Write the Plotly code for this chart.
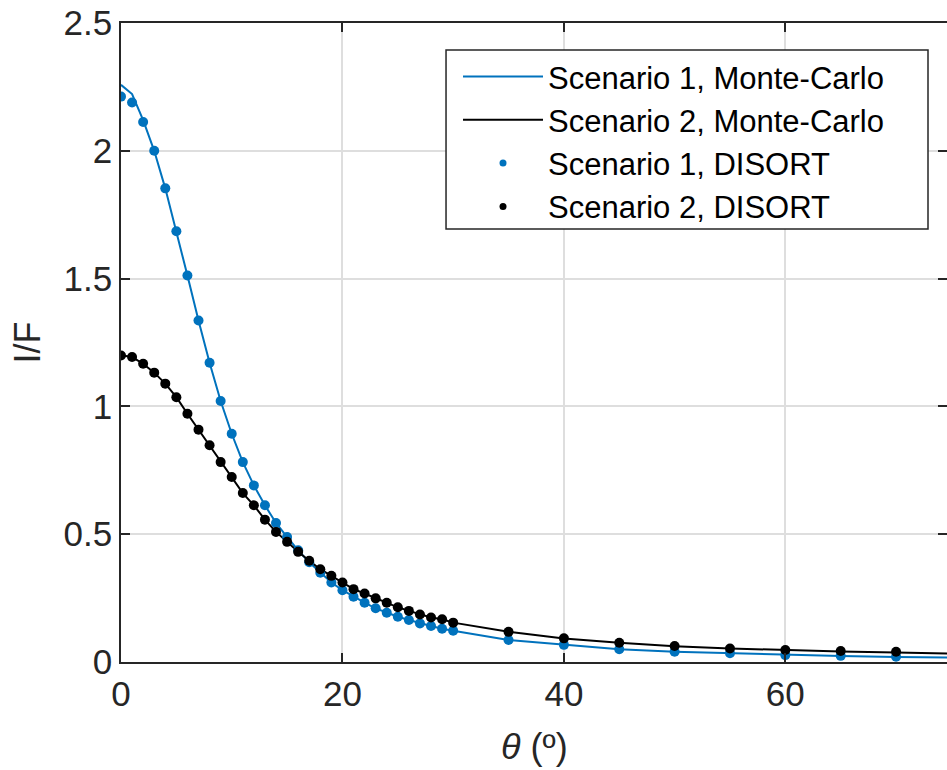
import plotly.graph_objects as go

# ---- data ----
theta_disort = list(range(0, 31)) + [35, 40, 45, 50, 55, 60, 65, 70]
theta_mc = list(range(0, 31)) + [35, 40, 45, 50, 55, 60, 65, 70, 75, 80]

s1_disort = [2.212, 2.189, 2.113, 2.000, 1.853, 1.685, 1.512, 1.336, 1.171, 1.021,
             0.893, 0.782, 0.691, 0.613, 0.544, 0.489, 0.437, 0.390, 0.349, 0.311,
             0.281, 0.255, 0.232, 0.210, 0.193, 0.177, 0.164, 0.151, 0.141, 0.130,
             0.122, 0.086, 0.067, 0.050, 0.040, 0.034, 0.027, 0.024, 0.021]
s2_disort = [1.199, 1.193, 1.167, 1.132, 1.089, 1.036, 0.971, 0.909, 0.848, 0.782,
             0.724, 0.661, 0.613, 0.557, 0.509, 0.470, 0.431, 0.396, 0.363, 0.337,
             0.311, 0.285, 0.268, 0.249, 0.232, 0.214, 0.200, 0.186, 0.174, 0.167,
             0.154, 0.118, 0.0925, 0.0755, 0.0625, 0.053, 0.047, 0.043, 0.040]

s1_mc = [2.258, 2.222, 2.120, 2.000, 1.853, 1.685, 1.512, 1.336, 1.171, 1.021,
         0.893, 0.782, 0.691, 0.613, 0.544, 0.489, 0.437, 0.390, 0.349, 0.311,
         0.281, 0.255, 0.232, 0.210, 0.193, 0.177, 0.164, 0.151, 0.141, 0.130,
         0.122, 0.086, 0.067, 0.050, 0.040, 0.034, 0.027, 0.023, 0.020, 0.016, 0.014]
s2_mc = [1.200, 1.193, 1.167, 1.132, 1.089, 1.036, 0.971, 0.909, 0.848, 0.782,
         0.724, 0.661, 0.613, 0.557, 0.509, 0.470, 0.431, 0.396, 0.363, 0.337,
         0.311, 0.285, 0.268, 0.249, 0.232, 0.214, 0.200, 0.186, 0.174, 0.167,
         0.154, 0.118, 0.092, 0.075, 0.062, 0.053, 0.046, 0.041, 0.037, 0.032, 0.029]

names = ["Scenario 1, Monte-Carlo", "Scenario 2, Monte-Carlo",
         "Scenario 1, DISORT", "Scenario 2, DISORT"]
x_title = "<i>θ</i> (º)"
y_title = "I/F"

BLUE = "#0072BD"
BLACK = "#000000"
AX = "#262626"
FONT = "Liberation Sans, Arial, sans-serif"

fig = go.Figure()
fig.add_trace(go.Scatter(x=theta_mc, y=s1_mc, mode="lines", name=names[0],
                         line=dict(color=BLUE, width=2), showlegend=False))
fig.add_trace(go.Scatter(x=theta_mc, y=s2_mc, mode="lines", name=names[1],
                         line=dict(color=BLACK, width=2), showlegend=False))
fig.add_trace(go.Scatter(x=theta_disort, y=s1_disort, mode="markers", name=names[2],
                         marker=dict(color=BLUE, size=10), showlegend=False))
fig.add_trace(go.Scatter(x=theta_disort, y=s2_disort, mode="markers", name=names[3],
                         marker=dict(color=BLACK, size=10), showlegend=False))

# legend entries (smaller legend symbols, as in the reference)
fig.add_trace(go.Scatter(x=[None], y=[None], mode="lines", name=names[0],
                         line=dict(color=BLUE, width=2)))
fig.add_trace(go.Scatter(x=[None], y=[None], mode="lines", name=names[1],
                         line=dict(color=BLACK, width=2)))
fig.add_trace(go.Scatter(x=[None], y=[None], mode="markers", name=names[2],
                         marker=dict(color=BLUE, size=7)))
fig.add_trace(go.Scatter(x=[None], y=[None], mode="markers", name=names[3],
                         marker=dict(color=BLACK, size=7)))

axis_common = dict(
    showline=True, linecolor=AX, linewidth=1.5, mirror="ticks",
    ticks="inside", ticklen=9, tickwidth=1.5, tickcolor=AX,
    showgrid=True, gridcolor="#dedede", gridwidth=1.5,
    zeroline=False, ticklabeloverflow="allow", automargin=False,
    tickfont=dict(family=FONT, size=35, color=AX),
)

fig.update_xaxes(range=[0, 74.6], tickvals=[0, 20, 40, 60], **axis_common)
fig.update_yaxes(range=[0, 2.5], tickvals=[0, 0.5, 1, 1.5, 2, 2.5],
                 ticktext=["0", "0.5", "1", "1.5", "2", "2.5"], **axis_common)

# axis titles
fig.add_annotation(text=x_title, xref="paper", yref="paper", x=0.5, y=0,
                   xanchor="center", yanchor="middle", yshift=-84, showarrow=False,
                   font=dict(family=FONT, size=36, color=AX))
fig.add_annotation(text=y_title, xref="paper", yref="paper", x=0, y=0.5,
                   xanchor="center", yanchor="middle", xshift=-94, textangle=-90,
                   showarrow=False, font=dict(family=FONT, size=36, color=AX))

# legend frame
fig.add_shape(type="rect", xref="paper", yref="paper",
              x0=0.3935, x1=0.977, y0=0.6776, y1=0.9577,
              fillcolor="white", line=dict(color=AX, width=1.5), layer="above")

fig.update_layout(
    width=947, height=770,
    margin=dict(l=121, r=0, t=23, b=108),
    plot_bgcolor="white", paper_bgcolor="white",
    legend=dict(x=0.408, y=0.958, xanchor="left", yanchor="top",
                bgcolor="rgba(0,0,0,0)", borderwidth=0,
                font=dict(family=FONT, size=31, color="black"),
                itemwidth=80, tracegroupgap=0),
)

fig.write_html("out.html", config={"displayModeBar": False},
               post_script="document.body.style.margin='0';document.body.style.overflow='hidden';")
